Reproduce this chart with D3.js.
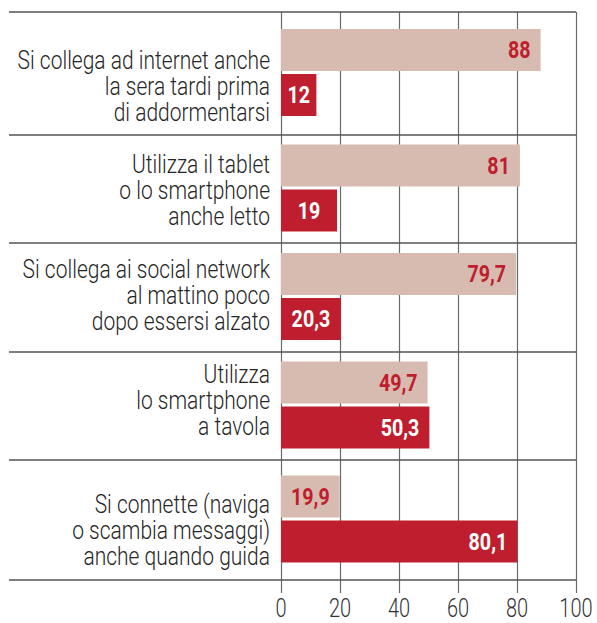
<!DOCTYPE html>
<html>
<head>
<meta charset="utf-8">
<script src="https://cdn.jsdelivr.net/npm/d3@7"></script>
<style>
  body { margin: 0; background: #fff; }
  text { font-family: "Roboto", "Liberation Sans", sans-serif; }
</style>
</head>
<body>
<div id="chart"></div>
<script>
// categories (one array of lines per group)
var categories = [
  ["Si collega ad internet anche", "la sera tardi prima", "di addormentarsi"],
  ["Utilizza il tablet ", "o lo smartphone", "anche letto"],
  ["Si collega ai social network ", "al mattino poco", "dopo essersi alzato"],
  ["Utilizza", "lo smartphone", "a tavola"],
  ["Si connette (naviga", "o scambia messaggi)", "anche quando guida"]
];
// series values
var valuesLight = [88, 81, 79.7, 49.7, 19.9];
var valuesDark = [12, 19, 20.3, 50.3, 80.1];
// tick labels
var ticks = [0, 20, 40, 60, 80, 100];

// layout
var W = 597, H = 623;
var plotLeft = 281, plotRight = 576, plotTop = 12, plotBottom = 580;
var groupHeights = [123, 108, 109, 108, 120];
var labelShift = [12, 1, -3, -6, 10];
var barH = 42, barGap = 3;
var light = "#d8bbb0", dark = "#be1e2d";

var groupTops = [];
groupHeights.reduce(function(acc, h) { groupTops.push(acc); return acc + h; }, plotTop);

var x = d3.scaleLinear().domain([0, 100]).range([plotLeft, plotRight]);

var svg = d3.select("#chart").append("svg")
    .attr("width", W)
    .attr("height", H);

// condensed text helper (squeezed horizontally)
function ctext(parent, tx, ty, str, anchor, sx) {
  return parent.append("g")
      .attr("transform", "translate(" + tx + "," + ty + ") scale(" + sx + ",1)")
    .append("text")
      .attr("text-anchor", anchor)
      .text(str);
}

// vertical gridlines + ticks
svg.append("g")
    .attr("class", "grid")
    .attr("transform", "translate(0," + (plotBottom + 13) + ")")
    .call(d3.axisBottom(x).tickValues(ticks).tickSize(-(plotBottom + 13 - plotTop)).tickFormat(""))
    .call(function(g) { g.select(".domain").remove(); })
    .selectAll("line")
    .attr("stroke", "#6a6a6a")
    .attr("stroke-width", 1.2);

// tick labels
var tickG = svg.append("g");
ticks.forEach(function(t) {
  ctext(tickG, x(t), 617, t, "middle", 0.8)
    .attr("fill", "#333")
    .style("font-size", "25px")
    .style("font-weight", 300);
});

// horizontal separators
var seps = groupTops.concat([plotBottom]);
svg.append("g")
  .selectAll("line")
  .data(seps)
  .enter().append("line")
    .attr("x1", 9)
    .attr("x2", plotRight)
    .attr("y1", function(d) { return d; })
    .attr("y2", function(d) { return d; })
    .attr("stroke", "#555")
    .attr("stroke-width", 1.5);

var groups = svg.selectAll(".group")
    .data(categories)
  .enter().append("g")
    .attr("class", "group")
    .attr("transform", function(d, i) { return "translate(0," + groupTops[i] + ")"; });

groups.each(function(lines, i) {
  var g = d3.select(this);
  var h = groupHeights[i];
  var y0 = (h - (2 * barH + barGap)) / 2 - 1;
  var bars = [
    {v: valuesLight[i], y: y0, fill: light, txt: dark},
    {v: valuesDark[i], y: y0 + barH + barGap, fill: dark, txt: "#fff"}
  ];
  bars.forEach(function(b) {
    g.append("rect")
      .attr("x", x(0))
      .attr("y", b.y)
      .attr("width", x(b.v) - x(0))
      .attr("height", barH)
      .attr("fill", b.fill);
    var small = b.v < 25;
    ctext(g, small ? (x(0) + x(b.v)) / 2 : x(b.v) - 10, b.y + barH / 2 + 8,
          String(b.v).replace(".", ","), small ? "middle" : "end", 0.82)
      .attr("fill", b.txt)
      .style("font-size", "24px")
      .style("font-weight", "bold");
  });

  // category label
  var lh = 26;
  var cy = h / 2 + labelShift[i];
  lines.forEach(function(line, k) {
    ctext(g, 270, cy + (k - 1) * lh + 9, line, "end", 0.84)
      .attr("fill", "#262626")
      .style("font-size", "25px")
      .style("font-weight", 300);
  });
});
</script>
</body>
</html>
